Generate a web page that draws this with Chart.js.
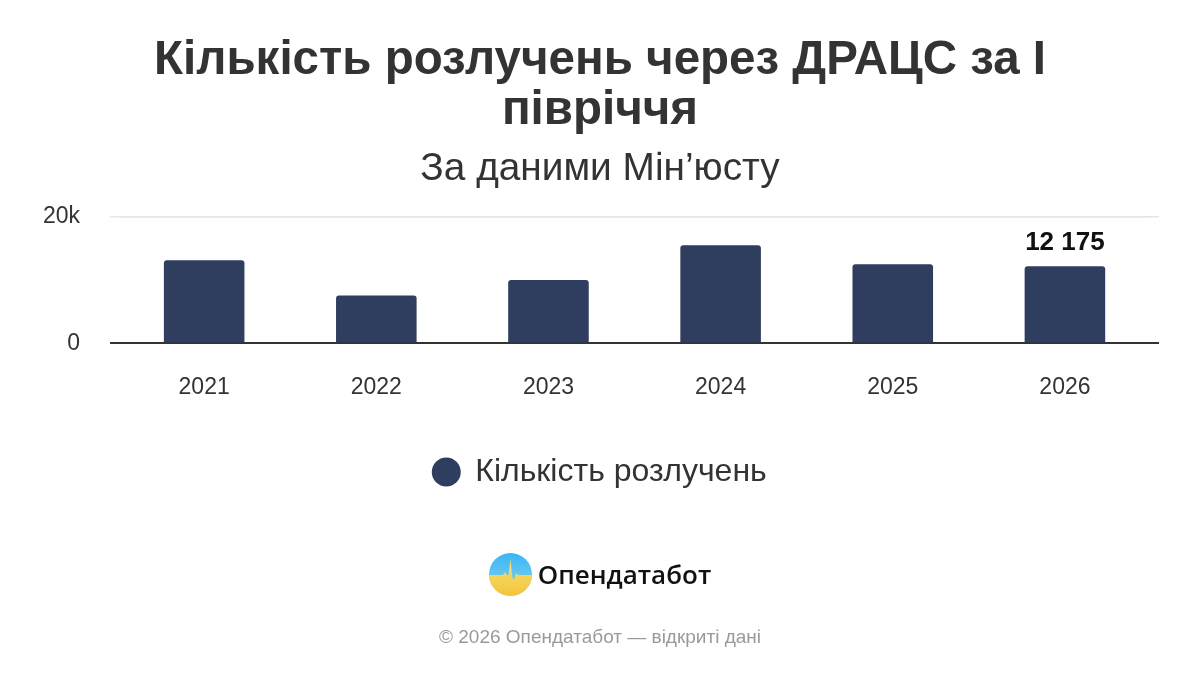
<!DOCTYPE html>
<html lang="uk">
<head>
<meta charset="utf-8">
<script src="https://cdn.jsdelivr.net/npm/chart.js@4"></script>
<style>
  html, body { margin: 0; padding: 0; background: #fff; }
  #wrap { position: relative; width: 1200px; height: 675px; overflow: hidden; font-family: "Liberation Sans", Arial, sans-serif; }
  #chart { position: absolute; left: 0; top: 0; }
  #brand { position: absolute; left: 0; width: 1200px; top: 552px; height: 44px; display: flex; justify-content: center; align-items: center; }
  #brand span { font-family: "Open Sans", sans-serif; font-weight: 600; font-size: 26px; color: #111; margin-left: 6px; }
  #footer { position: absolute; left: 0; width: 1200px; top: 626px; text-align: center; font-size: 19px; color: #9a9a9a; }
</style>
</head>
<body>
<div id="wrap">
  <canvas id="chart" width="1200" height="675"></canvas>
  <div id="brand">
    <svg width="43" height="43" viewBox="0 0 43 43">
      <defs>
        <linearGradient id="gb" x1="0" y1="0" x2="0" y2="1">
          <stop offset="0" stop-color="#38b6f4"/>
          <stop offset="1" stop-color="#8fd4f0"/>
        </linearGradient>
        <linearGradient id="gy" x1="0" y1="0" x2="0" y2="1">
          <stop offset="0" stop-color="#f3e27a"/>
          <stop offset="1" stop-color="#f6c43a"/>
        </linearGradient>
        <clipPath id="cc"><circle cx="21.5" cy="21.5" r="21.5"/></clipPath>
      </defs>
      <g clip-path="url(#cc)">
        <rect x="0" y="0" width="43" height="43" fill="url(#gb)"/>
        <path d="M0 22 L14 22 L16 19 L18 22 L19.5 22 L21.5 6 L23.5 25 L25 27 L27 20 L29 22 L43 22 L43 43 L0 43 Z" fill="url(#gy)"/>
      </g>
    </svg>
    <span>Опендатабот</span>
  </div>
  <div id="footer">© 2026 Опендатабот — відкриті дані</div>
</div>
<script>
const categories = ['2021', '2022', '2023', '2024', '2025', '2026'];
const divorces = [13100, 7560, 10000, 15500, 12500, 12175];
const valueLabels = [null, null, null, null, null, '12 175'];
const seriesName = 'Кількість розлучень';
const titleLines = ['Кількість розлучень через ДРАЦС за І', 'півріччя'];
const subtitleText = 'За даними Мін’юсту';
const yTicks = [0, 20000];

const FONT = '"Liberation Sans", Arial, sans-serif';
const barColor = '#2f3e5e';
const gridColor = (ctx) => ctx.tick && ctx.tick.value === 0 ? '#333333' : '#e6e6e6';
const gridWidth = (ctx) => ctx.tick && ctx.tick.value === 0 ? 2 : 1.5;

const valueLabelPlugin = {
  id: 'valueLabels',
  afterDatasetsDraw(chart) {
    const meta = chart.getDatasetMeta(0);
    const ctx = chart.ctx;
    ctx.save();
    ctx.font = 'bold 26px ' + FONT;
    ctx.fillStyle = '#111';
    ctx.textAlign = 'center';
    ctx.textBaseline = 'alphabetic';
    meta.data.forEach((bar, i) => {
      if (valueLabels[i]) ctx.fillText(valueLabels[i], bar.x, bar.y - 16);
    });
    ctx.restore();
  }
};

new Chart(document.getElementById('chart'), {
  type: 'bar',
  data: {
    labels: categories,
    datasets: [{
      label: seriesName,
      data: divorces,
      backgroundColor: barColor,
      borderWidth: 0,
      borderRadius: 3,
      borderSkipped: 'start',
      barPercentage: 0.468,
      categoryPercentage: 1,
      yAxisID: 'y'
    }]
  },
  options: {
    responsive: false,
    animation: false,
    devicePixelRatio: 1,
    layout: { padding: { top: 0, left: 13, right: 13, bottom: 177 } },
    font: { family: FONT },
    plugins: {
      title: {
        display: true,
        text: titleLines,
        color: '#333',
        font: { size: 47.5, weight: 'bold', family: FONT, lineHeight: 1.053 },
        padding: { top: 36, bottom: 0 }
      },
      subtitle: {
        display: true,
        text: subtitleText,
        color: '#333',
        font: { size: 38.8, family: FONT, lineHeight: 1.2 },
        padding: { top: 10, bottom: 24 }
      },
      legend: {
        position: 'bottom',
        labels: {
          usePointStyle: true,
          pointStyle: 'circle',
          boxWidth: 26,
          boxHeight: 20.5,
          padding: 25,
          color: '#333',
          font: { size: 32, family: FONT }
        }
      },
      tooltip: { enabled: false }
    },
    scales: {
      x: {
        grid: { display: false, drawTicks: false },
        border: { display: false },
        ticks: {
          color: '#333',
          padding: 30,
          font: { size: 23, family: FONT, lineHeight: 1.2 }
        }
      },
      y: {
        position: 'left',
        min: 0,
        max: 20000,
        afterBuildTicks: (axis) => { axis.ticks = yTicks.map(v => ({ value: v })); },
        grid: { color: gridColor, lineWidth: gridWidth, drawTicks: true, tickLength: 8 },
        border: { display: false },
        ticks: {
          color: '#333',
          padding: 30,
          font: { size: 23, family: FONT, lineHeight: 1.2 },
          callback: (v) => v === 0 ? '0' : (v / 1000) + 'k'
        }
      },
      y2: {
        position: 'right',
        min: 0,
        max: 20000,
        afterBuildTicks: (axis) => { axis.ticks = yTicks.map(v => ({ value: v })); },
        afterFit: (axis) => { axis.width = 36; },
        grid: { color: gridColor, lineWidth: gridWidth, drawTicks: true, tickLength: 8 },
        border: { display: false },
        ticks: { display: false }
      }
    }
  },
  plugins: [valueLabelPlugin]
});
</script>
</body>
</html>
